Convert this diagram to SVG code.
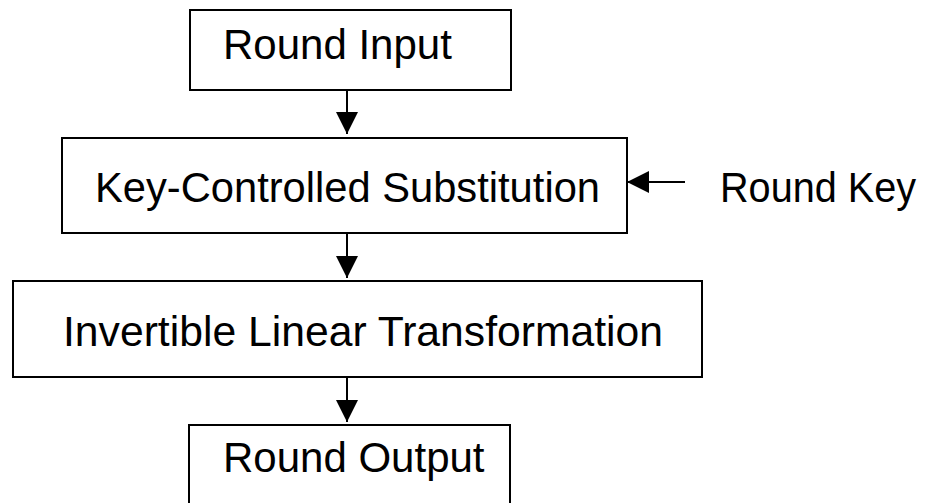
<svg xmlns="http://www.w3.org/2000/svg" width="949" height="503" viewBox="0 0 949 503">
<defs>
<style>
.box{fill:#fff;stroke:#000;stroke-width:2}
.lbl{font-family:"Liberation Sans",Arial,sans-serif;font-size:42px;fill:#000}
.conn{stroke:#000;stroke-width:2;fill:none}
</style>
<marker id="arr" markerUnits="userSpaceOnUse" markerWidth="22" markerHeight="22" viewBox="0 0 20 20" refX="20" refY="10" orient="auto">
<path d="M0,0 L20,10 L0,20 Z" fill="#000"/>
</marker>
</defs>
<rect width="949" height="503" fill="#fff"/>
<g id="round-input">
<rect class="box" x="190" y="10" width="321" height="80"/>
<text class="lbl" x="223" y="59">Round Input</text>
</g>
<g id="key-controlled-substitution">
<rect class="box" x="62" y="138" width="565" height="95"/>
<text class="lbl" x="95" y="202" textLength="505" lengthAdjust="spacingAndGlyphs">Key-Controlled Substitution</text>
</g>
<g id="round-key">
<text class="lbl" x="720" y="202" textLength="196" lengthAdjust="spacingAndGlyphs">Round Key</text>
</g>
<g id="invertible-linear-transformation">
<rect class="box" x="13" y="281" width="689" height="96"/>
<text class="lbl" x="63" y="346" textLength="600" lengthAdjust="spacingAndGlyphs">Invertible Linear Transformation</text>
</g>
<g id="round-output">
<rect class="box" x="189" y="425" width="321" height="90"/>
<text class="lbl" x="223" y="472">Round Output</text>
</g>
<g id="connectors">
<line class="conn" x1="347" y1="90" x2="347" y2="134" marker-end="url(#arr)"/>
<line class="conn" x1="347" y1="233" x2="347" y2="278" marker-end="url(#arr)"/>
<line class="conn" x1="347" y1="377" x2="347" y2="422" marker-end="url(#arr)"/>
<line class="conn" x1="685" y1="182" x2="627" y2="182" marker-end="url(#arr)"/>
</g>
</svg>
